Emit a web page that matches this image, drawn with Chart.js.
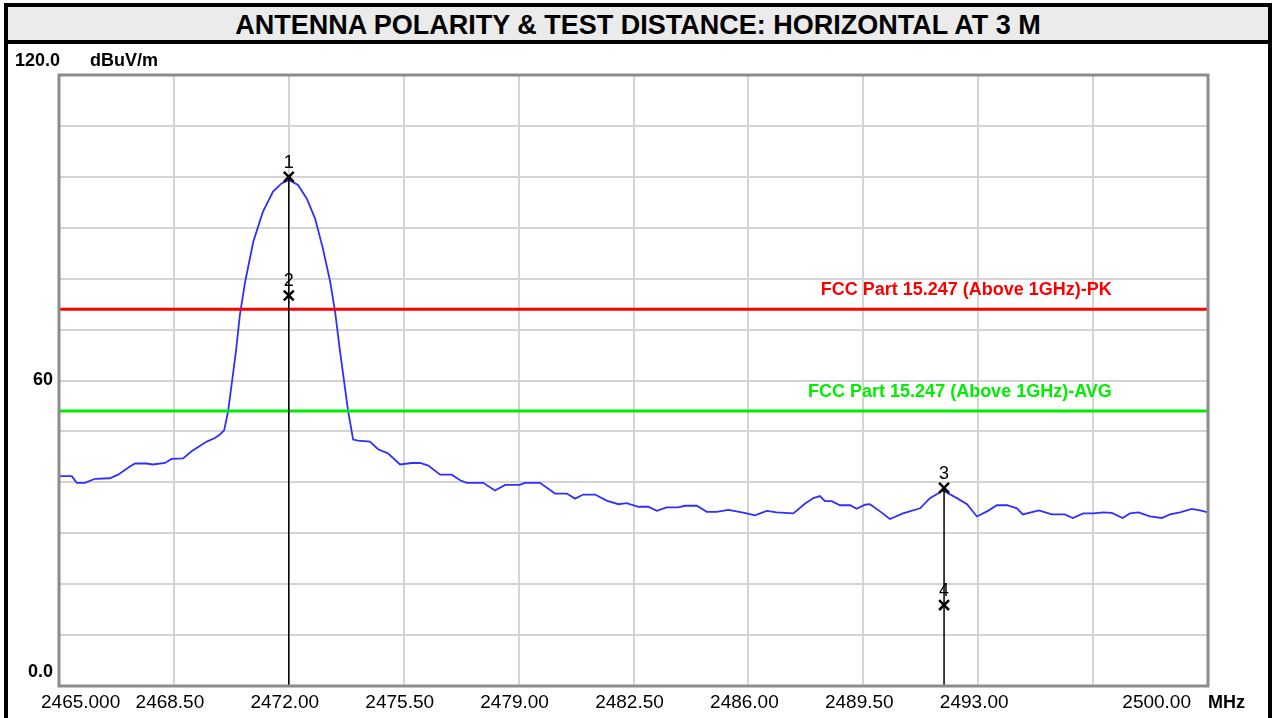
<!DOCTYPE html>
<html>
<head>
<meta charset="utf-8">
<script src="https://cdn.jsdelivr.net/npm/chart.js@4.4.1/dist/chart.umd.min.js"></script>
<style>
  html, body { margin: 0; padding: 0; background: #fff; width: 1274px; height: 718px; overflow: hidden; }
  #frame {
    position: absolute; left: 4px; top: 3px; width: 1268px; height: 720px;
    border-left: 4px solid #000; border-right: 4px solid #000; border-top: 4px solid #000;
    box-sizing: border-box;
  }
  #title {
    height: 30px; padding-top: 3px; line-height: 33px; background: #ebebeb; border-bottom: 4px solid #000; overflow: hidden;
    text-align: center; font: bold 27px "Liberation Sans", Arial, sans-serif; color: #000;
  }
  #wrap { position: relative; width: 1260px; height: 674px; }
</style>
</head>
<body>
<div id="frame">
  <div id="title">ANTENNA POLARITY &amp; TEST DISTANCE: HORIZONTAL AT 3 M</div>
  <div id="wrap"><canvas id="chart" width="1260" height="674"></canvas></div>
</div>
<script>
// sweep (MHz / dBuV/m)
const freqs = [
  2465.00, 2465.39, 2465.54, 2465.79, 2466.10, 2466.55, 2466.80, 2467.16, 2467.32, 2467.67,
  2467.86, 2468.23, 2468.43, 2468.78, 2469.04, 2469.50, 2469.75, 2469.90, 2470.03, 2470.15,
  2470.27, 2470.39, 2470.51, 2470.67, 2470.92, 2471.21, 2471.52, 2471.78, 2472.00, 2472.28,
  2472.55, 2472.80, 2473.04, 2473.26, 2473.41, 2473.56, 2473.81, 2473.96, 2474.11, 2474.47,
  2474.72, 2475.02, 2475.39, 2475.74, 2476.00, 2476.25, 2476.61, 2476.96, 2477.22, 2477.42,
  2477.92, 2478.28, 2478.59, 2479.04, 2479.19, 2479.65, 2480.11, 2480.47, 2480.72, 2480.97,
  2481.33, 2481.68, 2482.04, 2482.29, 2482.65, 2482.95, 2483.21, 2483.51, 2483.86, 2484.07,
  2484.43, 2484.73, 2485.03, 2485.39, 2485.64, 2485.95, 2486.20, 2486.56, 2486.86, 2487.37,
  2487.72, 2487.98, 2488.18, 2488.33, 2488.54, 2488.79, 2489.10, 2489.30, 2489.55, 2489.70,
  2490.01, 2490.31, 2490.71, 2491.23, 2491.53, 2491.93, 2492.35, 2492.66, 2492.96, 2493.27,
  2493.57, 2493.88, 2494.18, 2494.36, 2494.85, 2495.24, 2495.64, 2495.88, 2496.20, 2496.51,
  2496.81, 2497.07, 2497.40, 2497.62, 2497.88, 2498.23, 2498.59, 2498.84, 2499.15, 2499.50,
  2499.76, 2500.00
];
const levels = [
  41.2, 41.2, 39.9, 39.9, 40.7, 40.8, 41.5, 43.1, 43.7, 43.7,
  43.5, 43.8, 44.6, 44.7, 46.1, 48.0, 48.7, 49.4, 50.2, 53.9,
  59.8, 65.7, 72.9, 79.4, 87.3, 93.1, 97.1, 98.7, 99.4, 98.4,
  95.7, 91.8, 85.9, 79.4, 73.5, 65.7, 53.9, 48.4, 48.2, 48.0,
  46.5, 45.7, 43.5, 43.8, 43.8, 43.3, 41.5, 41.5, 40.4, 39.9,
  39.9, 38.4, 39.5, 39.5, 39.9, 39.9, 37.8, 37.8, 36.8, 37.6,
  37.6, 36.4, 35.7, 35.9, 35.2, 35.2, 34.4, 35.1, 35.1, 35.4,
  35.4, 34.2, 34.2, 34.6, 34.3, 33.9, 33.5, 34.4, 34.1, 33.9,
  35.8, 36.9, 37.3, 36.3, 36.3, 35.5, 35.5, 34.8, 35.6, 35.7,
  34.3, 32.8, 33.9, 34.9, 36.9, 38.4, 36.9, 35.7, 33.3, 34.3,
  35.5, 35.5, 34.9, 33.7, 34.5, 33.7, 33.7, 33.0, 33.9, 33.9,
  34.1, 34.0, 33.0, 33.9, 34.1, 33.3, 33.0, 33.7, 34.1, 34.8,
  34.5, 34.1
];

// markers
const markerIds = ["1", "2", "3", "4"];
const markerFreqs = [2472.00, 2472.00, 2491.96, 2491.96];
const markerLevels = [100.0, 76.7, 38.9, 15.9];

// limit lines
const limitNames = ["FCC Part 15.247 (Above 1GHz)-PK", "FCC Part 15.247 (Above 1GHz)-AVG"];
const limitLevels = [74, 54];
const limitColors = ["#ff0000", "#00ee00"];

// axes
const xMin = 2465, xMax = 2500;
const yMin = 0, yMax = 120;
const xTicks = [2465, 2468.5, 2472, 2475.5, 2479, 2482.5, 2486, 2489.5, 2493, 2496.5, 2500];
const xTickLabels = ["2465.000", "2468.50", "2472.00", "2475.50", "2479.00", "2482.50", "2486.00", "2489.50", "2493.00", "", "2500.00"];
const yLabels = [["120.0", 120], ["60", 60], ["0.0", 0]];

const FONT = '"Liberation Sans", Arial, sans-serif';
Chart.defaults.font.family = FONT;

const labelsPlugin = {
  id: "labels",
  afterDatasetsDraw(chart) {
    const ctx = chart.ctx;
    const xs = chart.scales.x, ys = chart.scales.y;
    const area = chart.chartArea;
    ctx.save();

    // plot frame
    ctx.strokeStyle = "#8c8c8c";
    ctx.lineWidth = 3;
    ctx.strokeRect(area.left, area.top, area.right - area.left, area.bottom - area.top);

    // limit captions
    ctx.font = "bold 18px " + FONT;
    ctx.textAlign = "right";
    ctx.textBaseline = "middle";
    limitLevels.forEach((lv, i) => {
      ctx.fillStyle = limitColors[i];
      ctx.fillText(limitNames[i], xs.getPixelForValue(2497.07), ys.getPixelForValue(lv) - 19);
    });

    // marker numbers
    ctx.fillStyle = "#000";
    ctx.font = "18px " + FONT;
    ctx.textAlign = "center";
    ctx.textBaseline = "bottom";
    markerIds.forEach((id, i) => {
      ctx.fillText(id, xs.getPixelForValue(markerFreqs[i]), ys.getPixelForValue(markerLevels[i]) - 5);
    });

    // x tick labels
    ctx.font = "19px " + FONT;
    ctx.textBaseline = "middle";
    const ly = area.bottom + 17;
    xTicks.forEach((v, i) => {
      const px = xs.getPixelForValue(v);
      if (i === 0) { ctx.textAlign = "left"; ctx.fillText(xTickLabels[i], px - 18, ly); }
      else if (i === xTicks.length - 1) { ctx.textAlign = "right"; ctx.fillText(xTickLabels[i], px - 17, ly); }
      else { ctx.textAlign = "center"; ctx.fillText(xTickLabels[i], px - 4, ly); }
    });
    ctx.font = "bold 18px " + FONT;
    ctx.textAlign = "left";
    ctx.fillText("MHz", area.right, ly);

    // y labels
    ctx.font = "bold 18px " + FONT;
    yLabels.forEach(([txt, v]) => {
      let py = ys.getPixelForValue(v);
      if (v === yMax || v === yMin) py -= 14;
      if (v === yMax) { ctx.textAlign = "left"; ctx.fillText(txt, area.left - 44, py); }
      else { ctx.textAlign = "right"; ctx.fillText(txt, area.left - 6, py); }
    });
    ctx.textAlign = "left";
    ctx.fillText("dBuV/m", area.left + 31, ys.getPixelForValue(yMax) - 14);

    ctx.restore();
  }
};

const datasets = [
  {
    label: "markers",
    data: markerFreqs.map((f, i) => ({ x: f, y: markerLevels[i] })),
    showLine: false,
    pointStyle: "crossRot",
    pointRadius: 7,
    borderColor: "#000",
    pointBorderWidth: 2.5
  },
  {
    label: "marker line 1",
    data: [{ x: markerFreqs[0], y: markerLevels[0] }, { x: markerFreqs[0], y: yMin }],
    showLine: true, borderColor: "#000", borderWidth: 1.5, pointRadius: 0
  },
  {
    label: "marker line 3",
    data: [{ x: markerFreqs[2], y: markerLevels[2] }, { x: markerFreqs[2], y: yMin }],
    showLine: true, borderColor: "#000", borderWidth: 1.5, pointRadius: 0
  },
  ...limitLevels.map((lv, i) => ({
    label: limitNames[i],
    data: [{ x: xMin, y: lv }, { x: xMax, y: lv }],
    showLine: true, borderColor: limitColors[i], borderWidth: 3, pointRadius: 0
  })),
  {
    label: "trace",
    data: freqs.map((f, i) => ({ x: f, y: levels[i] })),
    showLine: true,
    borderColor: "#2f2fff",
    borderWidth: 1.8,
    pointRadius: 0,
    tension: 0
  }
];

new Chart(document.getElementById("chart").getContext("2d"), {
  type: "scatter",
  data: { datasets },
  options: {
    responsive: false,
    animation: false,
    layout: { padding: { left: 51, right: 60, top: 31, bottom: 32 } },
    plugins: { legend: { display: false }, tooltip: { enabled: false } },
    scales: {
      x: {
        type: "linear", min: xMin, max: xMax,
        afterBuildTicks: s => { s.ticks = xTicks.map(v => ({ value: v })); },
        afterFit: s => { s.height = 0; },
        ticks: { display: false },
        grid: { color: "#d4d4d4", lineWidth: 2, drawTicks: false },
        border: { display: false }
      },
      y: {
        type: "linear", min: yMin, max: yMax,
        ticks: { display: false, stepSize: 10 },
        afterFit: s => { s.width = 0; },
        grid: { color: "#d4d4d4", lineWidth: 2, drawTicks: false },
        border: { display: false }
      }
    }
  },
  plugins: [labelsPlugin]
});
</script>
</body>
</html>
